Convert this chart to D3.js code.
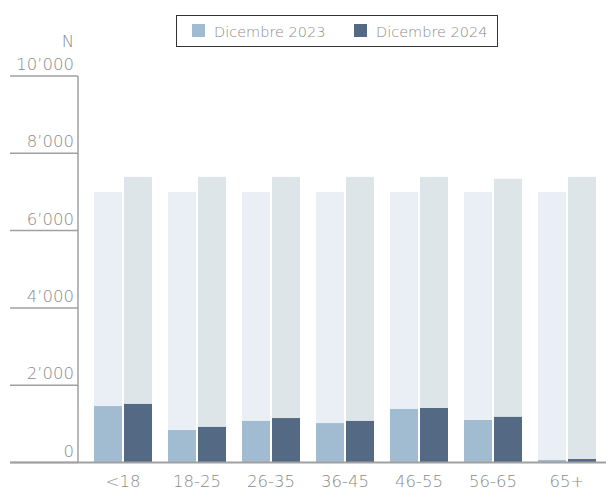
<!DOCTYPE html>
<html><head><meta charset="utf-8">
<script src="https://cdn.jsdelivr.net/npm/d3@7"></script>
<style>
body{margin:0;background:#fff;}
text{font-family:"DejaVu Sans",sans-serif;font-weight:200;fill:#8a8a8a;}
</style></head>
<body><svg id="c" width="606" height="491"></svg>
<script>
const categories = ["<18","18-25","26-35","36-45","46-55","56-65","65+"];
const seriesNames = ["Dicembre 2023","Dicembre 2024"];
const values2023 = [1460, 840, 1075, 1020, 1385, 1100, 65];
const values2024 = [1515, 920, 1150, 1075, 1410, 1180, 90];
const totals2023 = [7000, 7000, 7000, 7000, 7000, 7000, 7000];
const totals2024 = [7390, 7390, 7390, 7390, 7390, 7340, 7390];
const yTicks = [0, 2000, 4000, 6000, 8000, 10000];
const colors = ["#a1bcd1", "#536984"];
const bgColors = ["#e9eff4", "#dde5e9"];

const svg = d3.select("#c");
const y = d3.scaleLinear().domain([0, 10000]).range([462.5, 76]);
const x = d3.scaleBand().domain(categories).range([86, 604]).paddingInner(0.216).paddingOuter(0.108);
const xs = d3.scaleBand().domain([0,1]).range([0, x.bandwidth()]).paddingInner(2/30);
const fmt = v => d3.format(",")(v).replace(/,/g, "\u2019");

// y gridline ticks
const yg = svg.append("g");
yTicks.forEach(t => {
  yg.append("line").attr("x1", 10).attr("x2", 78).attr("y1", y(t)).attr("y2", y(t))
    .attr("stroke", "#a0a0a0").attr("stroke-width", 1.5);
  yg.append("text").attr("x", 74).attr("y", y(t) - 6).attr("text-anchor", "end")
    .attr("font-size", 16.5).text(fmt(t));
});
svg.append("text").attr("x", 74).attr("y", 46.5).attr("text-anchor", "end").attr("font-size", 16.5).text("N");

const data = categories.map((c, i) => ({c, v: [values2023[i], values2024[i]], t: [totals2023[i], totals2024[i]]}));
const g = svg.append("g");
data.forEach(d => {
  [0,1].forEach(s => {
    const bx = x(d.c) + xs(s);
    g.append("rect").attr("x", bx).attr("width", xs.bandwidth())
      .attr("y", y(d.t[s])).attr("height", y(0) - y(d.t[s])).attr("fill", bgColors[s]);
    g.append("rect").attr("x", bx).attr("width", xs.bandwidth())
      .attr("y", y(d.v[s])).attr("height", y(0) - y(d.v[s])).attr("fill", colors[s]);
  });
});

// axes lines
svg.append("line").attr("x1", 78).attr("x2", 78).attr("y1", y(10000)).attr("y2", y(0))
  .attr("stroke", "#a0a0a0").attr("stroke-width", 1.5);
svg.append("line").attr("x1", 10).attr("x2", 606).attr("y1", y(0)).attr("y2", y(0))
  .attr("stroke", "#a0a0a0").attr("stroke-width", 2);

// x labels
categories.forEach(c => {
  svg.append("text").attr("x", x(c) + x.bandwidth()/2).attr("y", 487)
    .attr("text-anchor", "middle").attr("font-size", 16.5).text(c);
});

// legend
const lg = svg.append("g");
lg.append("rect").attr("x", 176.5).attr("y", 15.5).attr("width", 321).attr("height", 31)
  .attr("fill", "#fff").attr("stroke", "#333").attr("stroke-width", 1);
const lx = [192, 354];
seriesNames.forEach((n, i) => {
  lg.append("rect").attr("x", lx[i]).attr("y", 24).attr("width", 13).attr("height", 13).attr("fill", colors[i]);
  lg.append("text").attr("x", lx[i] + 22).attr("y", 36.5).attr("font-size", 14.5).text(n);
});
</script></body></html>
